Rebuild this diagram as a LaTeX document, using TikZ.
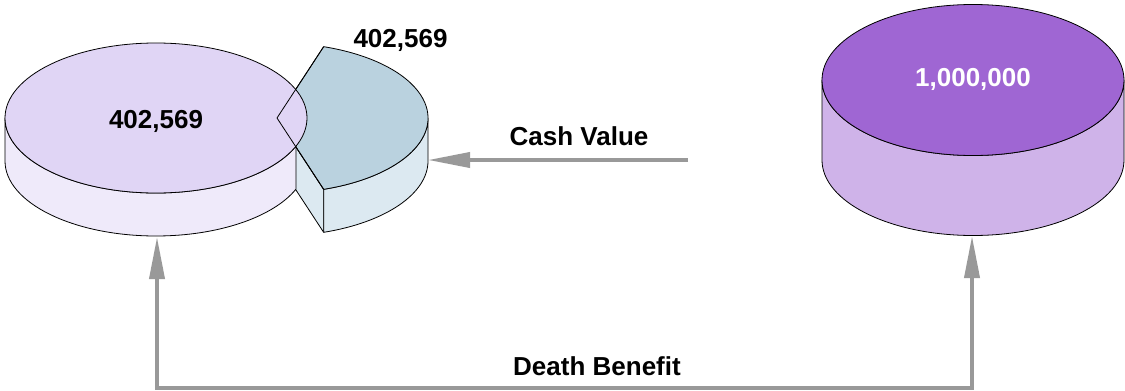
\documentclass[tikz,border=0pt]{standalone}
\usepackage{fontspec}
\setmainfont{Liberation Sans}
\usetikzlibrary{arrows.meta,calc}
\definecolor{mainTop}{HTML}{E0D5F5}
\definecolor{mainSide}{HTML}{EFEAFA}
\definecolor{wedgeTop}{HTML}{BAD2DF}
\definecolor{wedgeSide}{HTML}{DCE9F1}
\definecolor{cylTop}{HTML}{9F66D3}
\definecolor{cylSide}{HTML}{CFB3E9}
\definecolor{connGray}{HTML}{999999}
\tikzset{
  outline/.style={draw=black, line width=0.8pt, line join=round},
  conn/.style={draw=connGray, line width=3.8pt, line join=miter},
  tipstyle/.style={arrows={-Triangle[length=42pt,width=15pt]}},
  bothtips/.style={arrows={Triangle[length=42pt,width=15pt]-Triangle[length=42pt,width=15pt]}},
  lbl/.style={font=\fontsize{26}{31}\selectfont\bfseries, anchor=base, inner sep=0pt},
}
\begin{document}
\begin{tikzpicture}[x=1pt,y=1pt]
\useasboundingbox (0,0) rectangle (1125,-391);
% ---------- extracted wedge ----------
% cut face
\path[outline, fill=wedgeSide] (277,-118) -- (323.66,-189.33) -- (323.66,-232.33) -- (277,-161) -- cycle;
% outer side
\path[outline, fill=wedgeSide] (323.66,-189.33) -- (323.66,-232.33)
  arc[start angle=-72, end angle=0, x radius=151pt, y radius=75pt] -- (428,-118)
  arc[start angle=0, end angle=-72, x radius=151pt, y radius=75pt] -- cycle;
% top
\path[outline, fill=wedgeTop] (277,-118) -- (323.66,-189.33)
  arc[start angle=-72, end angle=72, x radius=151pt, y radius=75pt] -- cycle;
% ---------- main pie ----------
\path[outline, fill=mainSide] (5,-118) -- (5,-161)
  arc[start angle=180, end angle=338, x radius=151pt, y radius=75pt] -- (296,-146.1)
  arc[start angle=338, end angle=180, x radius=151pt, y radius=75pt] -- cycle;
\path[outline, fill=mainTop] (156,-118) ellipse[x radius=151pt, y radius=75pt];
% wedge top outline seen through
\draw[black, line width=0.8pt, line join=round] (323.66,-189.33) -- (277,-118) -- (323.66,-46.67);
\node[lbl] (pieval) at (156,-128) {402,569};
\node[lbl] (wedgeval) at (400.5,-47) {402,569};
% ---------- cylinder ----------
\path[outline, fill=cylSide] (822,-80) -- (822,-160)
  arc[start angle=180, end angle=360, x radius=151pt, y radius=75.5pt] -- (1124,-80)
  arc[start angle=0, end angle=-180, x radius=151pt, y radius=75.5pt] -- cycle;
\path[outline, fill=cylTop] (973,-80) ellipse[x radius=151pt, y radius=75.5pt];
\node[lbl, text=white] (cylval) at (973,-86) {1,000,000};
% ---------- connectors ----------
\coordinate (cashStart) at (688,-160);
\coordinate (wedgeRight) at (428,-160);
\coordinate (pieBottom) at (157,-237);
\coordinate (cylBottom) at (972,-236);
\coordinate (cornerL) at (157,-388);
\coordinate (cornerR) at (972,-388);
\draw[conn, tipstyle] (cashStart) -- (wedgeRight);
\draw[conn, bothtips] (pieBottom) -- (cornerL) -- (cornerR) -- (cylBottom);
\node[lbl] (cashlbl) at (579,-145) {Cash Value};
\node[lbl] (deathlbl) at (597,-375) {Death Benefit};
\end{tikzpicture}
\end{document}
